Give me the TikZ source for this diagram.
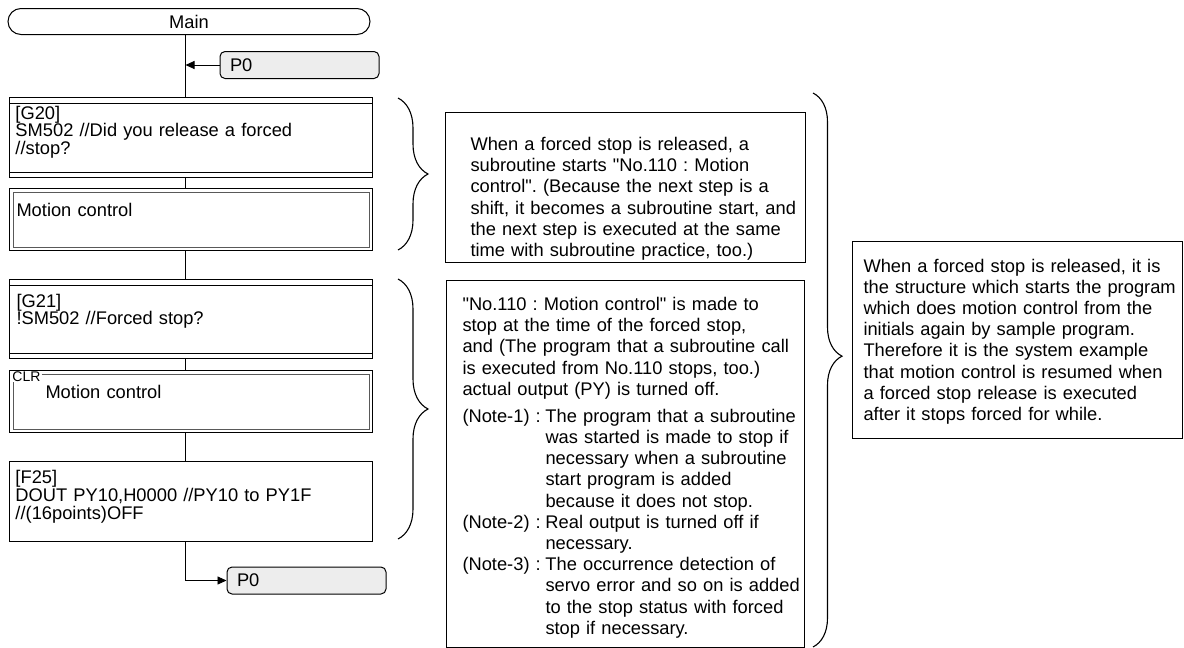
\documentclass[tikz,border=0pt]{standalone}
\usepackage{fontspec}
\setmainfont{Liberation Sans}[Ligatures=TeXOff]
\usetikzlibrary{arrows.meta,calc,decorations.pathreplacing}

\newcommand{\notelabel}[1]{\makebox[83pt][l]{#1}}
\newcommand{\notegap}{\hspace*{83pt}}

\tikzset{
	flow/.style={line width=0.9pt, black},
	flowarrow/.style={flow, -{Triangle[length=9pt,width=8pt]}},
	terminal/.style={draw, line width=1pt, rounded corners=13pt, minimum width=362pt, minimum height=26pt, inner sep=0pt},
	jumpbox/.style={draw, line width=1pt, fill=black!7, rounded corners=5pt, minimum height=27pt, text width=139pt, inner xsep=10pt, inner ysep=0pt, align=left},
	progbox/.style={draw, line width=1pt, anchor=north west, align=left, text height=14pt, font=\fontsize{18.3pt}{17.8pt}\selectfont},
	notebox/.style={draw, line width=1pt, anchor=north west, align=left, inner xsep=2pt, text height=14pt, font=\fontsize{18.3pt}{21.2pt}\selectfont},
	innerline/.style={line width=1pt, black},
	innerbox/.style={line width=0.7pt, black!65},
	bracket/.style={line width=1.1pt, decorate, decoration={brace, amplitude=#1}},
}

\begin{document}
\frenchspacing
\begin{tikzpicture}[x=1pt, y=-1pt, font=\fontsize{18.3pt}{21pt}\selectfont]
	\useasboundingbox (0,0) rectangle (1184,648);
	\coordinate (spine) at (185.5,0);

	% main flow
	\node[terminal] (main) at (189,21.5) {Main};
	\node[jumpbox] (ptop) at (299.5,65) {P0};
	\node[progbox, inner xsep=6pt, inner ysep=7.65pt, text width=351pt, text depth=50.7pt] (g20) at (9,97) {[G20]\\SM502 //Did you release a forced\\//stop?};
	\node[progbox, inner xsep=7pt, inner ysep=14.35pt, text width=349pt, text depth=19.3pt] (mc1) at (9,188) {Motion control};
	\node[progbox, inner xsep=7pt, inner ysep=13.65pt, text width=349pt, text depth=37.7pt] (g21) at (9,279) {[G21]\\!SM502 //Forced stop?};
	\node[progbox, inner xsep=36pt, inner ysep=14.35pt, text width=291pt, text depth=19.3pt] (mc2) at (9,370) {Motion control};
	\node[anchor=base west, inner sep=1pt, font=\fontsize{14pt}{14pt}\selectfont] (clr) at ($(mc2.north west)+(2.3,11)$) {CLR};
	\node[progbox, inner xsep=6pt, inner ysep=8.35pt, text width=351pt, text depth=49.3pt] (f25) at (9,461) {[F25]\\DOUT PY10,H0000 //PY10 to PY1F\\//(16points)OFF};
	\node[jumpbox] (pbot) at (306.5,580.5) {P0};

	\coordinate (join) at (ptop.west -| spine);
	\draw[flow] (main.south -| spine) -- (g20.north -| spine);
	\draw[flowarrow] (ptop) -- (join);
	\draw[flow] (g20.south -| spine) -- (mc1.north -| spine);
	\draw[flow] (mc1.south -| spine) -- (g21.north -| spine);
	\draw[flow] (g21.south -| spine) -- (mc2.north -| spine);
	\draw[flow] (mc2.south -| spine) -- (f25.north -| spine);
	\draw[flowarrow] (f25.south -| spine) |- (pbot);

	% double borders
	\foreach \n in {g20,g21} {
		\draw[innerline] ($(\n.north west)+(0,6)$) -- ($(\n.north east)+(0,6)$);
		\draw[innerline] ($(\n.south west)+(0,-6)$) -- ($(\n.south east)+(0,-6)$);
	}
	\draw[innerbox] ($(mc1.north west)+(4,4)$) rectangle ($(mc1.south east)+(-4,-4)$);
	\coordinate (m2a) at ($(mc2.north west)+(4,4)$);
	\coordinate (m2b) at ($(mc2.south east)+(-4,-4)$);
	\draw[innerbox] (clr.east |- m2a) -| (m2b) -| (m2a |- clr.south);

	% comments
	\node[notebox, inner ysep=24pt, text width=356pt, text depth=88pt] (note1) at (445,112) {\leftskip=23pt\rightskip=-8pt plus 1fil\relax When a forced stop is released, a\\subroutine starts "No.110 : Motion\\control". (Because the next step is a\\shift, it becomes a subroutine start, and\\the next step is executed at the same\\time with subroutine practice, too.)\par};
	\node[notebox, inner ysep=16pt, text width=354pt, text depth=321pt] (note2) at (446,280) {\leftskip=14pt\rightskip=-8pt plus 1fil\relax "No.110 : Motion control" is made to\\stop at the time of the forced stop,\\and (The program that a subroutine call\\is executed from No.110 stops, too.)\\actual output (PY) is turned off.\\[5.7pt]\notelabel{(Note-1) :}The program that a subroutine\\\notegap was started is made to stop if\\\notegap necessary when a subroutine\\\notegap start program is added\\\notegap because it does not stop.\\\notelabel{(Note-2) :}Real output is turned off if\\\notegap necessary.\\\notelabel{(Note-3) :}The occurrence detection of\\\notegap servo error and so on is added\\\notegap to the stop status with forced\\\notegap stop if necessary.\par};
	\node[notebox, inner ysep=16.65pt, text width=326pt, text depth=149.7pt] (note3) at (852,241) {\leftskip=9pt\rightskip=-8pt plus 1fil\relax When a forced stop is released, it is\\the structure which starts the program\\which does motion control from the\\initials again by sample program.\\Therefore it is the system example\\that motion control is resumed when\\a forced stop release is executed\\after it stops forced for while.\par};

	% braces
	\coordinate (br1a) at (398,98);
	\coordinate (br1b) at (398,250);
	\coordinate (br2a) at (398,279);
	\coordinate (br2b) at (398,539);
	\coordinate (br3a) at (813,93);
	\coordinate (br3b) at (813,647);
	\draw[bracket=30pt] (br1a) -- (br1b);
	\draw[bracket=30pt] (br2a) -- (br2b);
	\draw[bracket=29pt, decoration={aspect=0.475}] (br3a) -- (br3b);
\end{tikzpicture}
\end{document}
